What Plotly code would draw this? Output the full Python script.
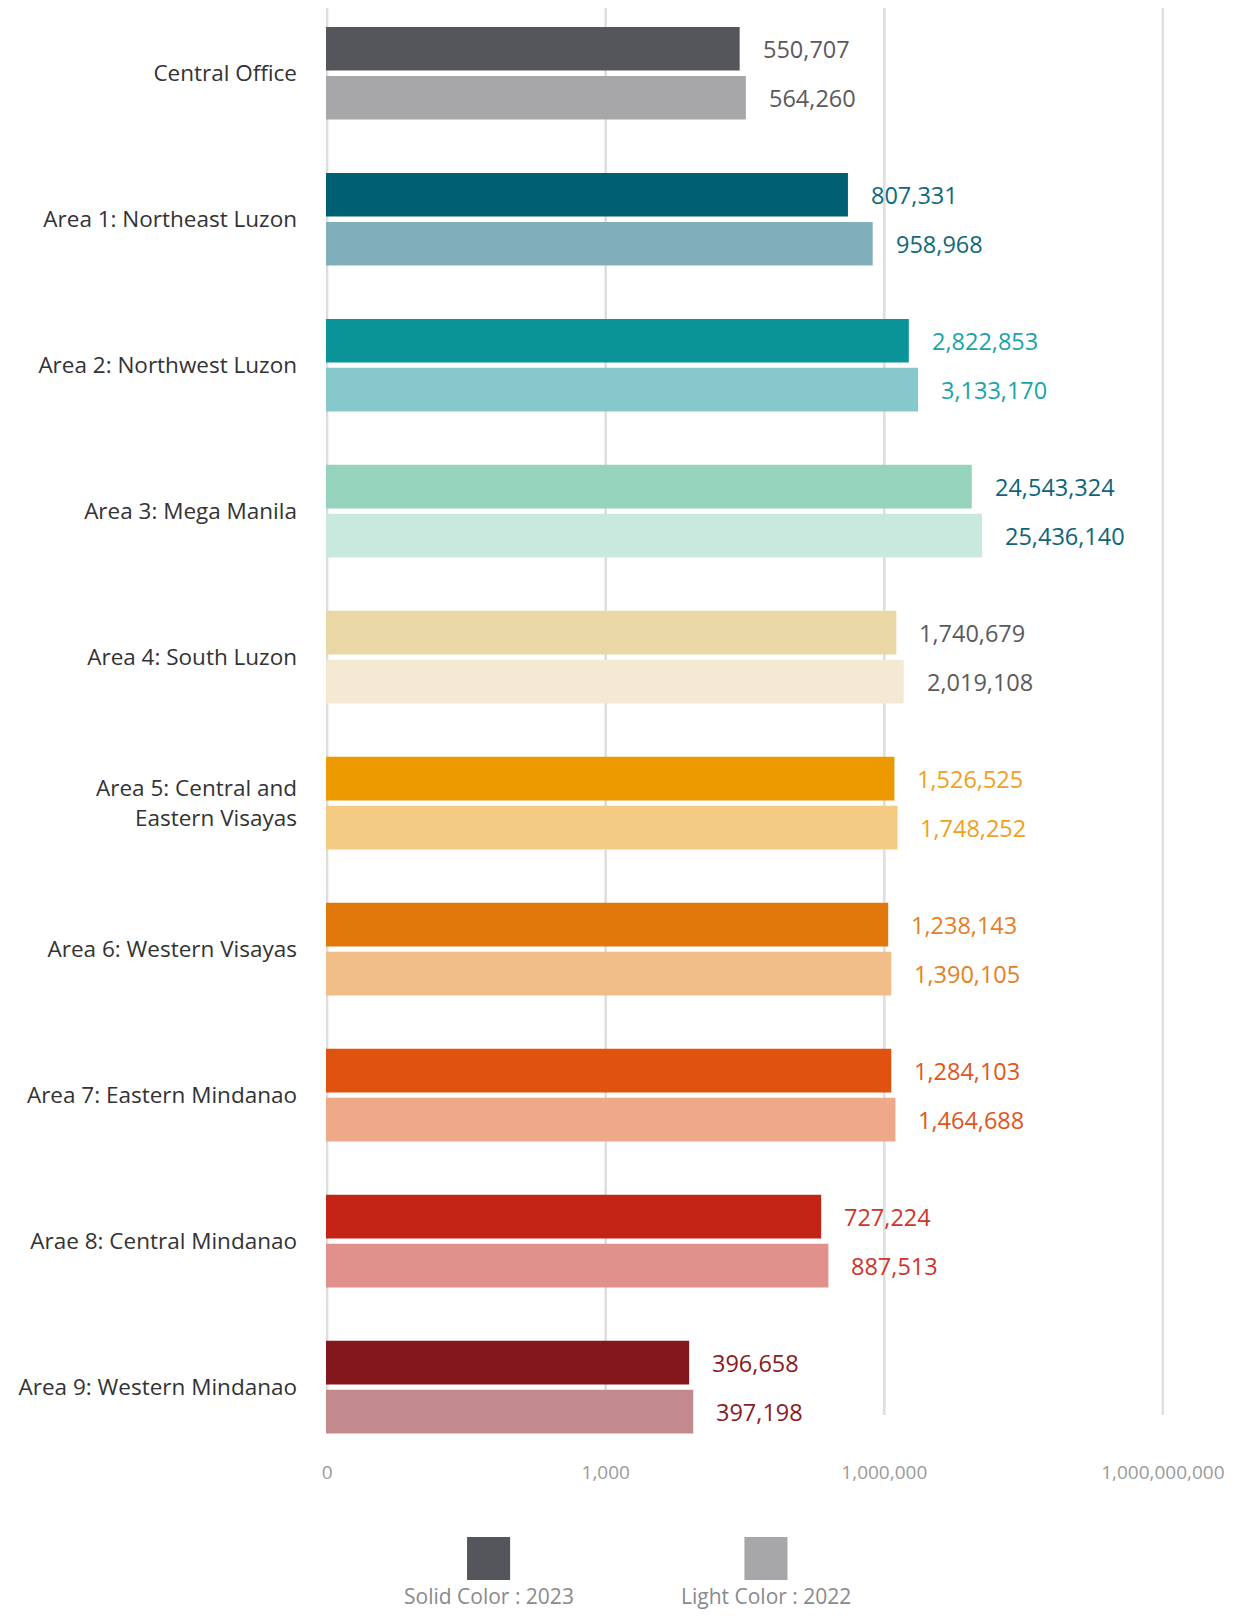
import math
import plotly.graph_objects as go

# ---------------- data ----------------
categories = [
    "Central Office",
    "Area 1: Northeast Luzon",
    "Area 2: Northwest Luzon",
    "Area 3: Mega Manila",
    "Area 4: South Luzon",
    "Area 5: Central and<br>Eastern Visayas",
    "Area 6: Western Visayas",
    "Area 7: Eastern Mindanao",
    "Arae 8: Central Mindanao",
    "Area 9: Western Mindanao",
]

# printed values
value_2023 = [550707, 807331, 2822853, 24543324, 1740679, 1526525, 1238143, 1284103, 727224, 396658]
value_2022 = [564260, 958968, 3133170, 25436140, 2019108, 1748252, 1390105, 1464688, 887513, 397198]

# bar lengths as read against the log axis of the picture
bar_len_2023 = [27700, 406000, 1836000, 8750000, 1349000, 1285000, 1102000, 1189000, 209000, 7920]
bar_len_2022 = [32300, 750000, 2311000, 11300000, 1618000, 1387000, 1189000, 1318000, 250000, 8770]

solid_colors = ["#55565B", "#015F73", "#0B9497", "#96D3BC", "#E9D7A6",
                "#EC9A00", "#E1780C", "#E0520F", "#C32416", "#84161E"]
light_colors = ["#A7A7A9", "#80AEBA", "#87C9CA", "#C9E9DE", "#F4EAD4",
                "#F4CB82", "#F1BD89", "#EEA988", "#E1918B", "#C28A8D"]
label_colors = ["#5A5A5E", "#0E6A7A", "#1AA3A6", "#0E6478", "#5A5A5E",
                "#F0A020", "#E67E22", "#E0561A", "#D0342A", "#8B1A22"]

tick_vals = [1, 1e3, 1e6, 1e9]
tick_text = ["0", "1,000", "1,000,000", "1,000,000,000"]

legend_labels = ["Solid Color : 2023", "Light Color : 2022"]
legend_colors = ["#55565B", "#A7A7A9"]

FONT = "Open Sans"

fig = go.Figure()
fig.add_trace(go.Bar(
    y=categories, x=bar_len_2023, orientation="h", name="2023",
    marker=dict(color=solid_colors, line=dict(width=0)), hoverinfo="skip",
))
fig.add_trace(go.Bar(
    y=categories, x=bar_len_2022, orientation="h", name="2022",
    marker=dict(color=light_colors, line=dict(width=0)), hoverinfo="skip",
))

annotations = []
for i, cat in enumerate(categories):
    for vals, lens, ys in ((value_2023, bar_len_2023, 24.5), (value_2022, bar_len_2022, -24.5)):
        annotations.append(dict(
            x=math.log10(lens[i]), y=cat, xref="x", yref="y",
            text=f"{vals[i]:,}", showarrow=False, xanchor="left", yanchor="middle",
            xshift=21, yshift=ys,
            font=dict(family=FONT, size=23.5, color=label_colors[i]),
        ))

shapes = []
# vertical gridlines (shorter than the plot area, as in the original)
for tv in tick_vals:
    shapes.append(dict(type="line", xref="x", yref="paper",
                       x0=tv, x1=tv, y0=0.029, y1=1.002,
                       line=dict(color="#DDDDDD", width=2.5), layer="below"))

# custom legend (square above the text)
leg_x = [0.194, 0.525]
for lx, lbl, col in zip(leg_x, legend_labels, legend_colors):
    shapes.append(dict(type="rect", xref="paper", yref="paper",
                       x0=lx - 0.0257, x1=lx + 0.0257, y0=-0.0849, y1=-0.0552,
                       fillcolor=col, line=dict(width=0)))
    annotations.append(dict(x=lx, y=-0.0959, xref="paper", yref="paper",
                            text=lbl, showarrow=False, xanchor="center", yanchor="middle",
                            font=dict(family=FONT, size=21, color="#8A8A8A")))

fig.update_layout(
    width=1220, height=1602,
    margin=dict(l=318, r=64, t=0, b=153),
    paper_bgcolor="white", plot_bgcolor="white",
    barmode="group", bargap=0.329, bargroupgap=0.108,
    showlegend=False,
    font=dict(family=FONT, size=22, color="#333333"),
    annotations=annotations, shapes=shapes,
)
fig.update_xaxes(
    type="log", range=[-0.012, 9.012], tickvals=tick_vals, ticktext=tick_text,
    showgrid=False, zeroline=False, showline=False, ticks="", ticklabelstandoff=2,
    tickfont=dict(family=FONT, size=19, color="#9A9A9A"),
)
fig.update_yaxes(
    type="category", range=[9.479, -0.447], showgrid=False, zeroline=False,
    showline=False, ticks="", ticklabelstandoff=28,
    tickfont=dict(family=FONT, size=22.5, color="#333333"),
)

fig.write_html("out.html")
